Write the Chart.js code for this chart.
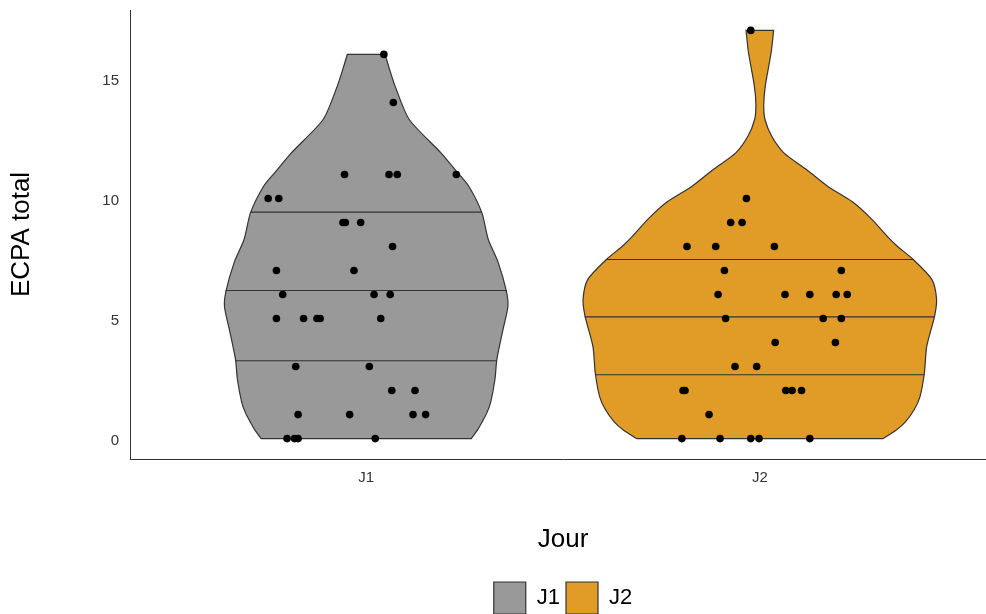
<!DOCTYPE html>
<html>
<head>
<meta charset="utf-8">
<script src="https://cdn.jsdelivr.net/npm/chart.js@4.4.1/dist/chart.umd.min.js"></script>
<style>
  html, body { margin: 0; padding: 0; overflow: hidden; background: #fff; }
  #wrap { width: 1000px; height: 624px; }
</style>
</head>
<body>
<div id="wrap"><canvas id="violinChart"></canvas></div>
<script>
// Values
const categories = ['J1', 'J2'];
const yTicks = [0, 5, 10, 15];

// ECPA scores per day, with the horizontal jitter seen in the picture (category units)
const j1Scores = [16, 14, 11, 11, 11, 11, 10, 10, 9, 9, 9, 8, 7, 7, 6, 6, 6, 5, 5, 5, 5, 5, 3, 3, 2, 2, 1, 1, 1, 1, 0, 0, 0, 0];
const j1Jitter = [0.045, 0.069, -0.055, 0.058, 0.079, 0.229, -0.249, -0.222, -0.059, -0.053, -0.014, 0.067, -0.228, -0.031,
  -0.212, 0.020, 0.061, -0.228, -0.159, -0.125, -0.117, 0.037, -0.179, 0.008, 0.065, 0.124, -0.173, -0.042, 0.119, 0.151,
  -0.201, -0.182, -0.173, 0.023];
const j2Scores = [17, 10, 9, 9, 8, 8, 8, 7, 7, 6, 6, 6, 6, 6, 5, 5, 5, 4, 4, 3, 3, 2, 2, 2, 2, 2, 1, 0, 0, 0, 0, 0];
const j2Jitter = [-0.023, -0.034, -0.074, -0.045, -0.185, -0.112, 0.037, -0.090, 0.207, -0.106, 0.064, 0.127, 0.194, 0.222,
  -0.087, 0.161, 0.207, 0.039, 0.192, -0.063, -0.008, -0.195, -0.190, 0.066, 0.082, 0.106, -0.129,
  -0.198, -0.101, -0.023, -0.002, 0.127];

// Violin outlines: half width (category units) at each score level
const j1DensY = [0, 0.36, 0.65, 1.05, 1.5, 2.45, 3.3, 4.5, 5.5, 6.15, 7.35, 8.3, 9.4, 10.5, 11.1, 11.9, 13.3, 14.7, 15.4, 16];
const j1HalfW = [0.267, 0.283, 0.293, 0.306, 0.316, 0.327, 0.332, 0.347, 0.360, 0.356, 0.335, 0.310, 0.294, 0.261, 0.231, 0.190, 0.109, 0.073, 0.059, 0.048];
const j2DensY = [0, 0.35, 0.7, 1.2, 1.75, 2.73, 3.84, 5.1, 5.8, 6.63, 7.47, 8.03, 8.4, 9.14, 9.85, 10.5, 11.2, 11.9, 12.6, 13.3, 13.9, 14.7, 16.1, 17];
const j2HalfW = [0.313, 0.346, 0.370, 0.392, 0.407, 0.418, 0.424, 0.444, 0.449, 0.437, 0.389, 0.348, 0.325, 0.284, 0.236, 0.173, 0.119, 0.061, 0.030, 0.013, 0.010, 0.014, 0.029, 0.035];

// Quartile lines (25%, 50%, 75%) and the violin half width there
const j1Quant = [3.24, 6.17, 9.43];
const j1QuantW = [0.332, 0.357, 0.294];
const j2Quant = [2.66, 5.07, 7.46];
const j2QuantW = [0.418, 0.445, 0.390];

const fillColors = ['#999999', '#E09C26'];
const edgeColor = '#333333';

Chart.defaults.font.family = "'Liberation Sans', Arial, sans-serif";

// closed outline; corner points doubled so the flat top and bottom stay straight
function outline(center, ys, ws) {
    const left = ys.map((y, i) => ({x: center - ws[i], y: y}));
    const right = ys.map((y, i) => ({x: center + ws[i], y: y})).reverse();
    const n = ys.length;
    return [left[0], ...left, left[n - 1], right[0], ...right, right[n - 1], left[0], left[0]];
}

const groups = [
    {scores: j1Scores, jitter: j1Jitter, densY: j1DensY, halfW: j1HalfW, q: j1Quant, qW: j1QuantW},
    {scores: j2Scores, jitter: j2Jitter, densY: j2DensY, halfW: j2HalfW, q: j2Quant, qW: j2QuantW}
];

const datasets = [];

// points on top
const pts = [];
groups.forEach((g, gi) => {
    g.scores.forEach((v, i) => pts.push({x: gi + 1 + g.jitter[i], y: v}));
});
datasets.push({
    label: 'points',
    data: pts,
    showLine: false,
    pointRadius: 3.8,
    pointBackgroundColor: '#000',
    pointBorderWidth: 0
});

// quartile lines
groups.forEach((g, gi) => {
    g.q.forEach((qv, i) => {
        datasets.push({
            label: 'q',
            data: [{x: gi + 1 - g.qW[i], y: qv}, {x: gi + 1 + g.qW[i], y: qv}],
            borderColor: edgeColor,
            borderWidth: 1.1,
            pointRadius: 0,
            fill: false,
            tension: 0
        });
    });
});

// violins
groups.forEach((g, gi) => {
    datasets.push({
        label: categories[gi],
        isViolin: true,
        data: outline(gi + 1, g.densY, g.halfW),
        backgroundColor: fillColors[gi],
        borderColor: edgeColor,
        borderWidth: 1.2,
        pointRadius: 0,
        fill: 'shape',
        tension: 0.25
    });
});

const ctx = document.getElementById('violinChart').getContext('2d');
new Chart(ctx, {
    type: 'line',
    data: {datasets: datasets},
    options: {
        responsive: true,
        maintainAspectRatio: false,
        devicePixelRatio: 1,
        animation: false,
        layout: {padding: {left: 0, right: 3, top: 10, bottom: 0}},
        plugins: {
            tooltip: {enabled: false},
            legend: {
                position: 'bottom',
                fullSize: false,
                labels: {
                    filter: (item, data) => !!data.datasets[item.datasetIndex].isViolin,
                    boxWidth: 32,
                    boxHeight: 32,
                    padding: 6,
                    color: '#000',
                    font: {size: 22}
                }
            }
        },
        scales: {
            x: {
                type: 'linear',
                min: 0.4,
                max: 2.6,
                afterBuildTicks: scale => { scale.ticks = categories.map((c, i) => ({value: i + 1})); },
                afterFit: scale => { scale.height = 117; },
                grid: {display: false, drawTicks: false},
                border: {display: true, color: edgeColor, width: 1},
                ticks: {
                    autoSkip: false,
                    maxRotation: 0,
                    padding: 10,
                    color: '#333',
                    font: {size: 15},
                    callback: v => categories[v - 1] || ''
                },
                title: {
                    display: true,
                    text: 'Jour',
                    color: '#000',
                    font: {size: 26},
                    padding: {top: 0, bottom: 21}
                }
            },
            y: {
                min: -0.85,
                max: 17.85,
                afterBuildTicks: scale => { scale.ticks = yTicks.map(v => ({value: v})); },
                afterFit: scale => { scale.width = 130; },
                grid: {display: false, drawTicks: true, tickLength: 11},
                border: {display: true, color: edgeColor, width: 1},
                ticks: {
                    padding: 0,
                    labelOffset: 2,
                    color: '#333',
                    font: {size: 15}
                },
                title: {
                    display: true,
                    text: 'ECPA total',
                    color: '#000',
                    font: {size: 26},
                    padding: {top: 6, bottom: 0}
                }
            }
        }
    }
});
</script>
</body>
</html>
